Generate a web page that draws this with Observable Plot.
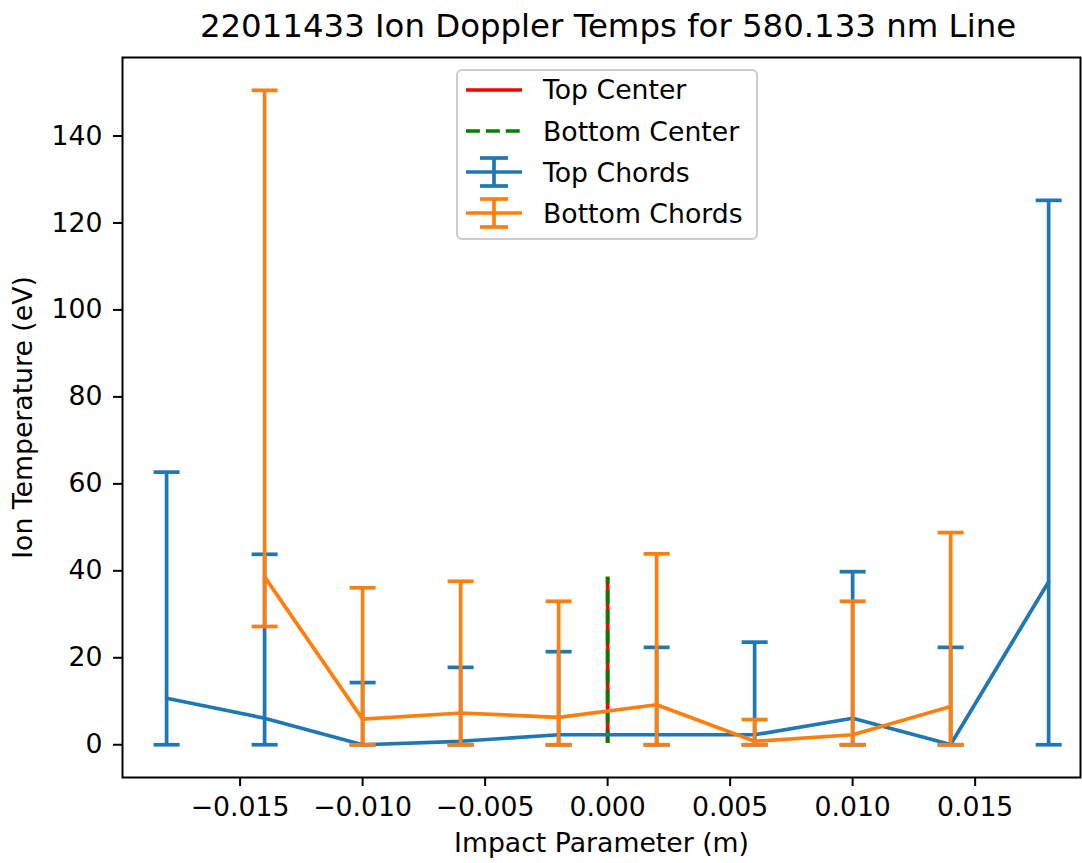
<!DOCTYPE html>
<html>
<head>
<meta charset="utf-8">
<script src="https://cdn.jsdelivr.net/npm/d3@7"></script>
<script src="https://cdn.jsdelivr.net/npm/@observablehq/plot@0.6"></script>
<style>
  body { margin: 0; background: #fff; }
  #wrap { position: relative; width: 1082px; height: 863px; font-family: "DejaVu Sans", sans-serif; color: #000; }
  #title { position: relative; height: 52px; }
  #title span { position: absolute; left: 608px; top: 0; transform: translateX(-50%); white-space: nowrap; font-size: 32.4px; line-height: 52px; }
  #legend { position: absolute; left: 0; top: 0; pointer-events: none; }
</style>
</head>
<body>
<div id="wrap">
  <div id="title"><span>22011433 Ion Doppler Temps for 580.133 nm Line</span></div>
  <div id="chart"></div>
  <svg id="legend" width="1082" height="863" font-family="DejaVu Sans" font-size="26.7">
    <rect x="457" y="70" width="300" height="169" rx="5" fill="white" fill-opacity="0.8" stroke="#cccccc" stroke-width="2"></rect>
    <line x1="466" x2="522" y1="90" y2="90" stroke="red" stroke-width="3.7"></line>
    <line x1="466" x2="522" y1="131" y2="131" stroke="green" stroke-width="3.7" stroke-dasharray="13.9,6"></line>
    <g stroke="#1f77b4" stroke-width="3.7">
      <line x1="466" x2="522" y1="172" y2="172"></line>
      <line x1="494" x2="494" y1="158" y2="186"></line>
      <line x1="480" x2="508" y1="158" y2="158"></line>
      <line x1="480" x2="508" y1="186" y2="186"></line>
    </g>
    <g stroke="#ff7f0e" stroke-width="3.7">
      <line x1="466" x2="522" y1="213" y2="213"></line>
      <line x1="494" x2="494" y1="199" y2="227"></line>
      <line x1="480" x2="508" y1="199" y2="199"></line>
      <line x1="480" x2="508" y1="227" y2="227"></line>
    </g>
    <g fill="#000">
      <text x="543" y="99">Top Center</text>
      <text x="543" y="141">Bottom Center</text>
      <text x="543" y="182">Top Chords</text>
      <text x="543" y="223">Bottom Chords</text>
    </g>
  </svg>
</div>
<script>
// ---- data ----
const impactTop   = [-0.018, -0.014, -0.010, -0.006, -0.002, 0.002, 0.006, 0.010, 0.014, 0.018];
const tempTop     = [10.7, 6.1, 0.0, 0.8, 2.3, 2.3, 2.3, 6.1, 0.05, 37.5];
const lowTop      = [0, 0, 0, 0, 0, 0, 0, 0, 0, 0];
const highTop     = [62.7, 43.8, 14.3, 17.8, 21.4, 22.4, 23.6, 39.8, 22.4, 125.2];

const impactBottom = [-0.014, -0.010, -0.006, -0.002, 0.002, 0.006, 0.010, 0.014];
const tempBottom   = [38.6, 5.9, 7.3, 6.3, 9.2, 0.8, 2.3, 8.8];
const lowBottom    = [27.2, 0, 0, 0, 0, 0, 0, 0];
const highBottom   = [150.5, 36.1, 37.6, 33.0, 43.9, 5.8, 33.0, 48.8];

const centerX    = [0.0];
const centerLow  = [0.3];
const centerHigh = [38.5];

const xTicks = [-0.015, -0.010, -0.005, 0.000, 0.005, 0.010, 0.015];
const yTicks = [0, 20, 40, 60, 80, 100, 120, 140];

const xLabel = "Impact Parameter (m)";
const yLabel = "Ion Temperature (eV)";

// ---- tables ----
const topRows = impactTop.map((x, i) => ({x, t: tempTop[i], lo: lowTop[i], hi: highTop[i]}));
const bottomRows = impactBottom.map((x, i) => ({x, t: tempBottom[i], lo: lowBottom[i], hi: highBottom[i]}));
const centerRows = centerX.map((x, i) => ({x, lo: centerLow[i], hi: centerHigh[i]}));

const BLUE = "#1f77b4", ORANGE = "#ff7f0e", LW = 3.7;
const cap = {draw(ctx) { ctx.moveTo(-13, 0); ctx.lineTo(13, 0); }};

function errorbar(rows, color) {
  return [
    Plot.line(rows, {x: "x", y: "t", stroke: color, strokeWidth: LW}),
    Plot.ruleX(rows, {x: "x", y1: "lo", y2: "hi", stroke: color, strokeWidth: LW}),
    Plot.dot(rows, {x: "x", y: "lo", symbol: cap, stroke: color, fill: "none", strokeWidth: LW}),
    Plot.dot(rows, {x: "x", y: "hi", symbol: cap, stroke: color, fill: "none", strokeWidth: LW})
  ];
}

const chart = Plot.plot({
  width: 1082,
  height: 811,
  marginTop: 5,
  marginBottom: 86,
  marginLeft: 122,
  marginRight: 2,
  style: {fontFamily: "DejaVu Sans", fontSize: "26.7px", color: "#000", background: "white"},
  x: {domain: [-0.0198, 0.0193]},
  y: {domain: [-7.53, 158.05]},
  marks: [
    Plot.ruleX(centerRows, {x: "x", y1: "lo", y2: "hi", stroke: "red", strokeWidth: LW}),
    Plot.ruleX(centerRows, {x: "x", y1: "lo", y2: "hi", stroke: "green", strokeWidth: LW, strokeDasharray: "13.9,6"}),
    ...errorbar(topRows, BLUE),
    ...errorbar(bottomRows, ORANGE),
    Plot.frame({stroke: "black", strokeWidth: 2}),
    Plot.axisX({ticks: xTicks, tickFormat: d3.format(".3f"), tickSize: 9, tickPadding: 11, strokeWidth: 2, label: null}),
    Plot.axisY({ticks: yTicks, tickFormat: d3.format("d"), tickSize: 9, tickPadding: 11, strokeWidth: 2, label: null}),
    Plot.text([xLabel], {text: d => d, frameAnchor: "bottom", textAnchor: "middle", lineAnchor: "top", dy: 56}),
    Plot.text([yLabel], {text: d => d, frameAnchor: "left", textAnchor: "middle", lineAnchor: "middle", rotate: -90, dx: -99})
  ]
});
document.getElementById("chart").appendChild(chart);
</script>
</body>
</html>
